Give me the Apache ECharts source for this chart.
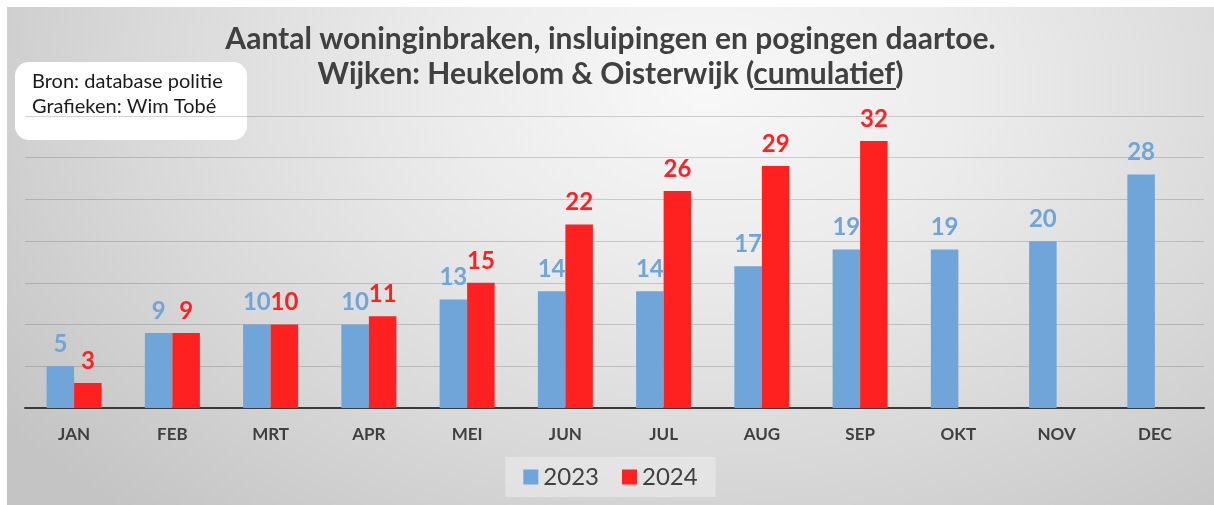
<!DOCTYPE html>
<html>
<head>
<meta charset="utf-8">
<script src="https://cdn.jsdelivr.net/npm/echarts@6/dist/echarts.min.js"></script>
<style>
  html, body { margin: 0; padding: 0; background: #fff; }
  #chart {
    position: absolute;
    left: 7px;
    top: 7px;
    width: 1207px;
    height: 498px;
    background: radial-gradient(ellipse 72% 115% at 58% 16%, #f8f8f8 0%, #ececec 30%, #d9d9d9 65%, #c4c4c4 100%);
  }
</style>
</head>
<body>
<div id="chart"></div>
<script>
const months = ['JAN', 'FEB', 'MRT', 'APR', 'MEI', 'JUN', 'JUL', 'AUG', 'SEP', 'OKT', 'NOV', 'DEC']
const values2023 = [5, 9, 10, 10, 13, 14, 14, 17, 19, 19, 20, 28]
const values2024 = [3, 9, 10, 11, 15, 22, 26, 29, 32, null, null, null]

const titleLine1 = 'Aantal woninginbraken, insluipingen en pogingen daartoe.'
const titleLine2a = 'Wijken: Heukelom & Oisterwijk ('
const titleLine2b = 'cumulatief'
const titleLine2c = ')'
const sourceLines = ['Bron: database politie', 'Grafieken: Wim Tobé']

const FONT = 'Lato, "Open Sans", sans-serif'
const TITLE_SIZE = 30
const TEXT_DARK = '#404040'
const BLUE = '#6fa5d8'
const RED = '#ff2020'

const el = document.getElementById('chart')
const chart = echarts.init(el)
const W = el.clientWidth

// underline under "cumulatief", positioned from measured text widths
const ctx = document.createElement('canvas').getContext('2d')
ctx.font = 'bold ' + TITLE_SIZE + 'px ' + FONT
const wA = ctx.measureText(titleLine2a).width
const wB = ctx.measureText(titleLine2b).width
const wFull = ctx.measureText(titleLine2a + titleLine2b + titleLine2c).width
const line2Start = W / 2 - wFull / 2
const underlineY = 82

const option = {
  textStyle: { fontFamily: FONT },
  title: [
    {
      text: titleLine1,
      left: 'center',
      top: 15,
      padding: 0,
      textStyle: { fontSize: TITLE_SIZE, fontWeight: 'bold', color: TEXT_DARK, fontFamily: FONT, lineHeight: 35 }
    },
    {
      text: titleLine2a + titleLine2b + titleLine2c,
      left: 'center',
      top: 50,
      padding: 0,
      textStyle: { fontSize: TITLE_SIZE, fontWeight: 'bold', color: TEXT_DARK, fontFamily: FONT, lineHeight: 35 }
    }
  ],
  graphic: [
    {
      type: 'line',
      shape: { x1: line2Start + wA, y1: underlineY, x2: line2Start + wA + wB, y2: underlineY },
      style: { stroke: TEXT_DARK, lineWidth: 2 }
    },
    {
      type: 'rect',
      left: 8,
      top: 55,
      shape: { width: 232, height: 78, r: 14 },
      style: { fill: '#ffffff' }
    },
    {
      type: 'text',
      left: 25,
      top: 62,
      style: {
        text: sourceLines.join('\n'),
        font: '20px ' + FONT,
        fill: '#1a1a1a',
        lineHeight: 25
      }
    }
  ],
  legend: {
    data: ['2023', '2024'],
    left: 'center',
    top: 450,
    padding: [8, 18],
    backgroundColor: 'rgba(245,245,245,0.45)',
    itemWidth: 15,
    itemHeight: 15,
    itemGap: 23,
    icon: 'rect',
    textStyle: { fontSize: 24, color: TEXT_DARK, fontFamily: FONT }
  },
  grid: { left: 18, right: 10, top: 109, bottom: 97 },
  xAxis: {
    type: 'category',
    data: months,
    axisTick: { show: false },
    axisLine: { lineStyle: { color: '#3a3a3a', width: 2 } },
    axisLabel: { color: TEXT_DARK, fontWeight: 'bold', fontSize: 17, margin: 18, fontFamily: FONT }
  },
  yAxis: {
    type: 'value',
    min: 0,
    max: 35,
    interval: 5,
    axisLabel: { show: false },
    axisLine: { show: false },
    axisTick: { show: false },
    splitLine: { lineStyle: { color: 'rgba(90,90,90,0.26)', width: 1 } }
  },
  series: [
    {
      name: '2023',
      type: 'bar',
      data: values2023,
      barGap: '0%',
      barCategoryGap: '44%',
      itemStyle: { color: BLUE },
      label: {
        show: true,
        position: 'top',
        distance: 10,
        color: BLUE,
        fontSize: 24,
        fontWeight: 'bold',
        fontFamily: FONT
      }
    },
    {
      name: '2024',
      type: 'bar',
      data: values2024,
      itemStyle: { color: RED },
      label: {
        show: true,
        position: 'top',
        distance: 10,
        color: RED,
        fontSize: 24,
        fontWeight: 'bold',
        fontFamily: FONT
      }
    }
  ]
}

chart.setOption(option)
</script>
</body>
</html>
